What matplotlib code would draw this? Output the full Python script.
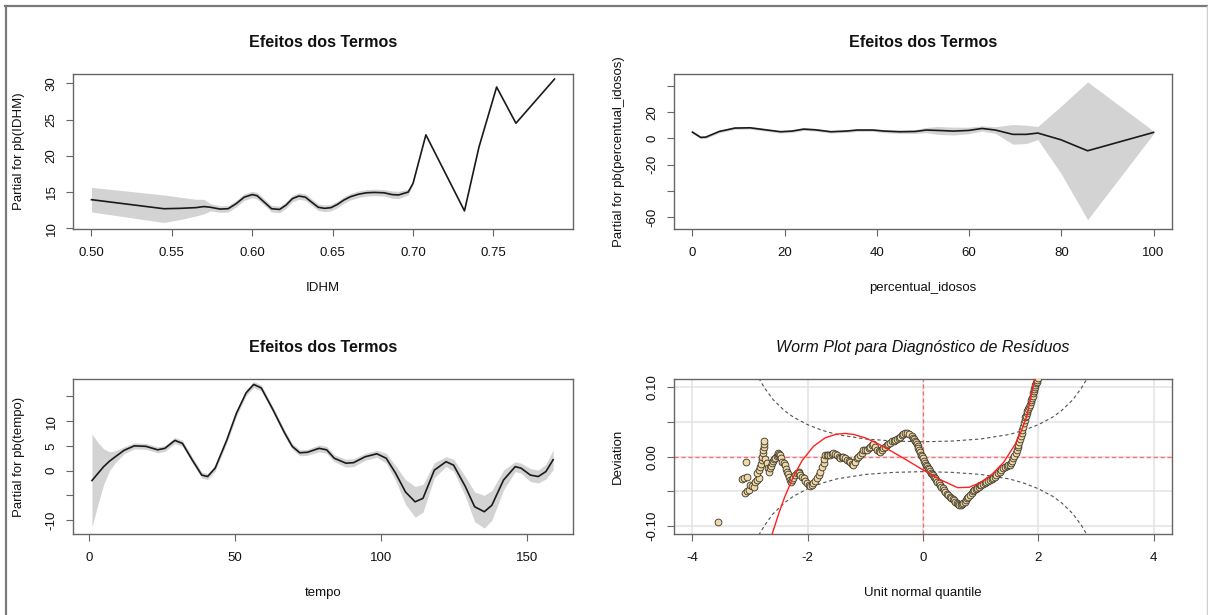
import numpy as np
import matplotlib
matplotlib.use("Agg")
import matplotlib.pyplot as plt
from matplotlib.lines import Line2D

plt.rcParams['font.family'] = ['Liberation Sans', 'DejaVu Sans']
plt.rcParams['axes.unicode_minus'] = False

# ---- termo pb(IDHM)
idhm = [0.500, 0.545, 0.555, 0.565, 0.570, 0.574, 0.580, 0.585, 0.590, 0.595,
        0.600, 0.603, 0.607, 0.612, 0.617, 0.621, 0.625, 0.629, 0.633, 0.637,
        0.641, 0.645, 0.649, 0.653, 0.657, 0.661, 0.666, 0.671, 0.676, 0.682,
        0.687, 0.691, 0.697, 0.700, 0.708, 0.732, 0.741, 0.752, 0.764, 0.788]
idhm_fit = [13.95, 12.7, 12.75, 12.85, 13.0, 12.9, 12.65, 12.7, 13.4, 14.3,
            14.65, 14.5, 13.7, 12.7, 12.6, 13.2, 14.1, 14.45, 14.3, 13.6,
            12.9, 12.75, 12.85, 13.3, 13.9, 14.35, 14.7, 14.9, 14.95, 14.9,
            14.65, 14.6, 15.0, 16.2, 22.9, 12.4, 21.2, 29.5, 24.5, 30.6]
idhm_se = [1.7, 1.9, 1.55, 1.15, 1.0, 0.5, 0.45, 0.45, 0.45, 0.45,
           0.45, 0.45, 0.45, 0.45, 0.45, 0.45, 0.45, 0.45, 0.45, 0.45,
           0.45, 0.45, 0.45, 0.45, 0.45, 0.45, 0.45, 0.45, 0.45, 0.45,
           0.5, 0.5, 0.4, 0.1, 0.0, 0.0, 0.0, 0.0, 0.0, 0.0]

# ---- termo pb(percentual_idosos)
idosos = [0, 1.8, 2.9, 5.8, 9.2, 12.5, 15.8, 19.1, 21.6, 24.1,
          26.6, 30, 33.3, 35.8, 39.1, 41.6, 44.9, 48.3, 50.7, 53.2,
          56.6, 59.9, 62.8, 65.7, 69.5, 72.4, 74.9, 79.9, 85.7, 100]
idosos_fit = [4.8, 0.8, 1.0, 5.3, 7.9, 8.1, 6.6, 5.1, 5.6, 7.1,
              6.6, 5.1, 5.6, 6.4, 6.4, 5.6, 5.1, 5.3, 6.4, 6.1,
              5.6, 6.1, 7.6, 6.4, 3.1, 3.1, 4.1, -1.0, -9.4, 4.6]
idosos_se = [1.0, 1.0, 1.0, 1.0, 1.0, 1.0, 1.0, 1.0, 1.0, 1.0,
             1.0, 1.0, 1.0, 1.0, 1.0, 1.2, 1.3, 1.5, 2.0, 3.0,
             3.0, 2.5, 2.0, 2.5, 7.5, 7.0, 5.0, 25.5, 52.5, 1.0]

# ---- termo pb(tempo)
tempo = [1, 3, 5, 7, 9, 12, 15.5, 19.5, 23.5, 26,
         29.4, 32, 35.3, 38.6, 40.6, 43.2, 47.2, 50.5, 53.8, 56.4,
         59, 63, 67, 69.6, 72.2, 74.8, 78.8, 81.4, 84, 88,
         90.6, 94.6, 98.6, 101.8, 105, 108.4, 111.7, 114.4, 118.3, 122.3,
         124.9, 128.9, 132.1, 135.4, 138, 142, 146, 148, 151.2, 153.9,
         156.5, 159]
tempo_fit = [-2.0, -0.6, 0.8, 1.9, 2.8, 4.1, 5.0, 4.9, 4.2, 4.5,
             6.1, 5.5, 2.2, -0.9, -1.2, 0.5, 6.2, 11.6, 15.7, 17.4,
             16.7, 12.3, 7.6, 4.9, 3.6, 3.7, 4.5, 4.2, 2.5, 1.5,
             1.6, 2.8, 3.4, 2.5, -0.5, -4.3, -6.3, -5.6, 0.1, 1.8,
             1.1, -3.2, -7.3, -8.3, -7.0, -1.9, 0.8, 0.5, -0.9, -1.2,
             -0.2, 2.2]
tempo_se = [9.4, 6.3, 3.6, 1.9, 1.2, 0.7, 0.6, 0.6, 0.6, 0.6,
            0.6, 0.6, 0.6, 0.6, 0.6, 0.6, 0.6, 0.6, 0.6, 0.6,
            0.6, 0.6, 0.6, 0.6, 0.6, 0.6, 0.7, 0.7, 0.7, 0.8,
            0.8, 0.7, 0.7, 1.0, 1.5, 2.5, 3.1, 2.8, 1.5, 1.0,
            1.2, 2.0, 3.0, 3.3, 3.0, 2.0, 1.0, 1.0, 1.3, 1.3,
            1.5, 2.0]

# ---- worm plot (quantil normal, desvio)
worm_points = [
    (-3.565, -0.094), (-3.07, -0.0076),
    (-3.143, -0.0326), (-3.10, -0.030), (-3.056, -0.0288), (-3.085, -0.0527), (-3.05, -0.050),
    (-3.027, -0.0479), (-2.998, -0.0407), (-2.97, -0.042), (-2.94, -0.044), (-2.911, -0.0359),
    (-2.88, -0.033), (-2.853, -0.0311), (-2.882, -0.023), (-2.85, -0.019), (-2.825, -0.0143),
    (-2.81, -0.010), (-2.796, -0.0047), (-2.785, 0.000), (-2.779, 0.0049), (-2.77, 0.010),
    (-2.755, 0.0145), (-2.76, 0.019), (-2.767, 0.0231),
    (-2.74, -0.004), (-2.709, -0.0095), (-2.69, -0.016), (-2.68, -0.0215), (-2.651, -0.0167),
    (-2.635, -0.013), (-2.622, -0.0095), (-2.60, -0.006), (-2.585, -0.004), (-2.564, -0.0023),
    (-2.54, 0.001), (-2.52, 0.003), (-2.507, 0.0049), (-2.49, 0.004), (-2.478, 0.0025),
    (-2.46, -0.002), (-2.449, -0.0071), (-2.42, -0.009), (-2.391, -0.0119), (-2.375, -0.017),
    (-2.362, -0.0215), (-2.345, -0.025), (-2.333, -0.0288), (-2.31, -0.033), (-2.29, -0.036),
    (-2.275, -0.0335), (-2.25, -0.030), (-2.218, -0.0263), (-2.19, -0.023), (-2.16, -0.0215),
    (-2.145, -0.024), (-2.131, -0.0263), (-2.10, -0.029), (-2.073, -0.0311), (-2.045, -0.035),
    (-2.015, -0.0383), (-1.985, -0.041), (-1.957, -0.0422), (-1.93, -0.041), (-1.90, -0.0383),
    (-1.87, -0.035), (-1.842, -0.0311), (-1.81, -0.026), (-1.784, -0.0215), (-1.755, -0.0155),
    (-1.726, -0.0095), (-1.71, -0.0035), (-1.697, 0.0025), (-1.67, 0.003), (-1.64, 0.003),
    (-1.611, 0.0025), (-1.58, 0.004), (-1.553, 0.0049), (-1.525, 0.004), (-1.495, 0.0025),
    (-1.465, 0.000), (-1.438, -0.0023), (-1.41, -0.001), (-1.38, 0.0001), (-1.35, -0.002),
    (-1.322, -0.0047), (-1.29, -0.006), (-1.264, -0.0071), (-1.235, -0.010), (-1.207, -0.0119),
    (-1.18, -0.007), (-1.149, -0.0023), (-1.12, 0.000), (-1.091, 0.0025), (-1.06, 0.006),
    (-1.033, 0.0097), (-1.00, 0.0097), (-0.975, 0.0097), (-0.945, 0.012), (-0.918, 0.0145),
    (-0.89, 0.017), (-0.86, 0.019), (-0.83, 0.014), (-0.80, 0.010), (-0.77, 0.0075),
    (-0.745, 0.0073), (-0.72, 0.010), (-0.69, 0.012), (-0.659, 0.0145), (-0.63, 0.017),
    (-0.60, 0.019), (-0.572, 0.0202), (-0.54, 0.022), (-0.51, 0.023), (-0.485, 0.024),
    (-0.455, 0.026), (-0.425, 0.027), (-0.399, 0.0288), (-0.37, 0.031), (-0.341, 0.0327),
    (-0.31, 0.034), (-0.272, 0.0336), (-0.235, 0.032), (-0.197, 0.0298), (-0.175, 0.027),
    (-0.155, 0.025), (-0.137, 0.0225), (-0.122, 0.0216), (-0.11, 0.018), (-0.095, 0.0155),
    (-0.08, 0.0125), (-0.064, 0.0096), (-0.05, 0.0065), (-0.035, 0.003), (-0.02, 0.0005),
    (-0.006, -0.0024), (0.01, -0.0055), (0.03, -0.009), (0.052, -0.012), (0.07, -0.0135),
    (0.09, -0.016), (0.11, -0.0183), (0.125, -0.021), (0.14, -0.0235), (0.155, -0.025),
    (0.168, -0.0264), (0.185, -0.029), (0.205, -0.031), (0.225, -0.0336), (0.245, -0.036),
    (0.27, -0.038), (0.295, -0.0408), (0.318, -0.043), (0.34, -0.0455), (0.364, -0.048),
    (0.39, -0.0505), (0.415, -0.053), (0.439, -0.0552), (0.465, -0.0575), (0.49, -0.0595),
    (0.514, -0.0614), (0.535, -0.063), (0.56, -0.0655), (0.583, -0.0672), (0.605, -0.068),
    (0.63, -0.069), (0.652, -0.0696), (0.675, -0.0685), (0.70, -0.067), (0.728, -0.0648),
    (0.745, -0.062), (0.765, -0.060), (0.786, -0.0576), (0.81, -0.055), (0.843, -0.0528),
    (0.865, -0.050), (0.89, -0.0485), (0.918, -0.047), (0.94, -0.045), (0.965, -0.043),
    (0.988, -0.0408), (1.01, -0.040), (1.04, -0.039), (1.074, -0.0374), (1.10, -0.036),
    (1.13, -0.035), (1.161, -0.0336), (1.19, -0.032), (1.22, -0.030), (1.248, -0.0288),
    (1.275, -0.026), (1.305, -0.024), (1.334, -0.0216), (1.36, -0.019), (1.39, -0.0165),
    (1.421, -0.0144), (1.45, -0.013), (1.48, -0.0125), (1.508, -0.012), (1.525, -0.009),
    (1.545, -0.0055), (1.566, -0.0024), (1.585, 0.001), (1.605, 0.005), (1.624, 0.0096),
    (1.64, 0.0135), (1.655, 0.0175), (1.67, 0.0216), (1.683, 0.026), (1.697, 0.030),
    (1.71, 0.0336), (1.722, 0.038), (1.737, 0.043), (1.751, 0.048), (1.763, 0.053),
    (1.775, 0.057), (1.787, 0.059), (1.797, 0.0624), (1.81, 0.066), (1.825, 0.069),
    (1.843, 0.072), (1.855, 0.075), (1.866, 0.078), (1.878, 0.0816), (1.89, 0.085),
    (1.902, 0.088), (1.913, 0.0912), (1.923, 0.094), (1.932, 0.097), (1.941, 0.1008),
    (1.95, 0.103), (1.96, 0.106), (1.97, 0.108), (1.98, 0.111), (1.99, 0.113),
]
# curva cubica ajustada (vermelha)
fit_q = [-2.62, -2.5, -2.4, -2.25, -2.1, -1.9, -1.7, -1.5, -1.35, -1.2, -1.0, -0.8,
         -0.55, -0.3, 0.0, 0.3, 0.6, 0.8, 1.0, 1.2, 1.4, 1.6, 1.7, 1.8, 1.94]
fit_dev = [-0.112, -0.081, -0.058, -0.029, -0.006, 0.015, 0.027, 0.0325, 0.0335, 0.032,
           0.027, 0.0195, 0.008, -0.004, -0.019, -0.033, -0.0445, -0.044, -0.037, -0.025,
           -0.008, 0.018, 0.036, 0.058, 0.112]
# limites de confianca (tracejado)
band_q = [-2.85, -2.75, -2.6, -2.4, -2.25, -2.0, -1.75, -1.5, -1.0, -0.5, 0.0,
          0.5, 1.0, 1.5, 1.75, 2.0, 2.25, 2.4, 2.6, 2.75, 2.85]
band_dev = [0.113, 0.099, 0.082, 0.066, 0.057, 0.046, 0.038, 0.032, 0.0255, 0.0225, 0.0215,
            0.0225, 0.0255, 0.032, 0.038, 0.046, 0.057, 0.066, 0.082, 0.099, 0.113]

W, H = 1208, 615
fig = plt.figure(figsize=(W / 100, H / 100), dpi=100)

AXC = '#666666'
FS = 9.5


def make_axes(left, top, width, height):
    return fig.add_axes([left / W, 1 - (top + height) / H, width / W, height / H])


def style(ax, xlim, ylim, xticks, xticklabels, yticks, yticklabels, xlabel, ylabel, title,
          ylab_x, italic=False):
    ax.set_xlim(xlim)
    ax.set_ylim(ylim)
    ax.set_xticks(xticks)
    ax.set_xticklabels(xticklabels)
    ax.set_yticks(yticks)
    ax.set_yticklabels(yticklabels, rotation=90, va='center')
    for s in ax.spines.values():
        s.set_color(AXC)
        s.set_linewidth(1.0)
    ax.tick_params(axis='both', direction='out', length=5, width=0.8, color=AXC,
                   labelsize=FS, labelcolor='#111111')
    ax.tick_params(axis='x', pad=8)
    ax.tick_params(axis='y', pad=6)
    ax.set_xlabel(xlabel, fontsize=FS, color='#111111')
    ax.xaxis.set_label_coords(0.5, -0.38)
    ax.xaxis.label.set_va('center')
    ax.set_ylabel(ylabel, fontsize=FS, color='#111111')
    ax.yaxis.set_label_coords(ylab_x, 0.5)
    ax.yaxis.label.set_va('center')
    if italic:
        ax.text(0.5, 1.206, title, transform=ax.transAxes, ha='center', va='center',
                fontsize=11.5, fontstyle='italic', color='#111111')
    else:
        ax.text(0.5, 1.206, title, transform=ax.transAxes, ha='center', va='center',
                fontsize=11.6, fontweight='bold', color='#111111')


def term_plot(ax, x, fit, se):
    x = np.array(x)
    fit = np.array(fit)
    se = np.array(se)
    ax.fill_between(x, fit - se, fit + se, color='#d3d3d3', lw=0)
    ax.plot(x, fit, color='#1a1a1a', lw=1.2)


# painel 1
ax1 = make_axes(73, 74, 500, 155)
term_plot(ax1, idhm, idhm_fit, idhm_se)
style(ax1, (0.4885, 0.7995), (9.9, 31.3),
      [0.50, 0.55, 0.60, 0.65, 0.70, 0.75], ['0.50', '0.55', '0.60', '0.65', '0.70', '0.75'],
      [10, 15, 20, 25, 30], ['10', '15', '20', '25', '30'],
      'IDHM', 'Partial for pb(IDHM)', 'Efeitos dos Termos', -0.108)

# painel 2
ax2 = make_axes(674, 74, 498, 155)
term_plot(ax2, idosos, idosos_fit, idosos_se)
style(ax2, (-4, 104), (-69, 49.1),
      [0, 20, 40, 60, 80, 100], ['0', '20', '40', '60', '80', '100'],
      [-60, -40, -20, 0, 20, 40], ['-60', '', '-20', '0', '20', ''],
      'percentual_idosos', 'Partial for pb(percentual_idosos)', 'Efeitos dos Termos', -0.111)

# painel 3
ax3 = make_axes(73, 379, 500, 155)
term_plot(ax3, tempo, tempo_fit, tempo_se)
style(ax3, (-5.5, 165.8), (-12.8, 18.5),
      [0, 50, 100, 150], ['0', '50', '100', '150'],
      [-10, -5, 0, 5, 10, 15], ['-10', '', '0', '5', '10', ''],
      'tempo', 'Partial for pb(tempo)', 'Efeitos dos Termos', -0.108)

# painel 4: worm plot
ax4 = make_axes(674, 379, 498, 155)
for gx in [-4, -2, 0, 2, 4]:
    ax4.axvline(gx, color='#e3e3e3', lw=1.1, zorder=0)
for gy in [-0.10, -0.05, 0.0, 0.05, 0.10]:
    ax4.axhline(gy, color='#e3e3e3', lw=1.1, zorder=0)
ax4.axhline(0, color='#ff7070', lw=1.0, dashes=(3, 2), zorder=1)
ax4.axvline(0, color='#ff7070', lw=1.0, dashes=(3, 2), zorder=1)
bq = np.array(band_q)
bd = np.array(band_dev)
ax4.plot(bq, bd, color='#505050', lw=0.8, dashes=(3, 2.5), zorder=2)
ax4.plot(bq, -bd, color='#505050', lw=0.8, dashes=(3, 2.5), zorder=2)
wq, wd = zip(*worm_points)
ax4.scatter(wq, wd, s=24, facecolor='#f0d9a8', edgecolor='#3a3428', linewidths=0.6, zorder=3)
ax4.plot(fit_q, fit_dev, color='#ff2020', lw=1.0, zorder=4)
style(ax4, (-4.32, 4.32), (-0.1112, 0.1118),
      [-4, -2, 0, 2, 4], ['-4', '-2', '0', '2', '4'],
      [-0.10, -0.05, 0.0, 0.05, 0.10], ['-0.10', '', '0.00', '', '0.10'],
      'Unit normal quantile', 'Deviation', 'Worm Plot para Diagnóstico de Resíduos', -0.113,
      italic=True)

# moldura da captura de tela
fig.add_artist(Line2D([5 / W, 1.0], [1 - 6 / H, 1 - 6 / H], transform=fig.transFigure,
                      color='#7a7a7a', lw=1.6))
fig.add_artist(Line2D([6 / W, 6 / W], [0, 1 - 6 / H], transform=fig.transFigure,
                      color='#7a7a7a', lw=1.6))
fig.add_artist(Line2D([1 - 1 / W, 1 - 1 / W], [0, 1 - 6 / H], transform=fig.transFigure,
                      color='#cfcfcf', lw=1.0))

fig.savefig('out.png', dpi=100)
